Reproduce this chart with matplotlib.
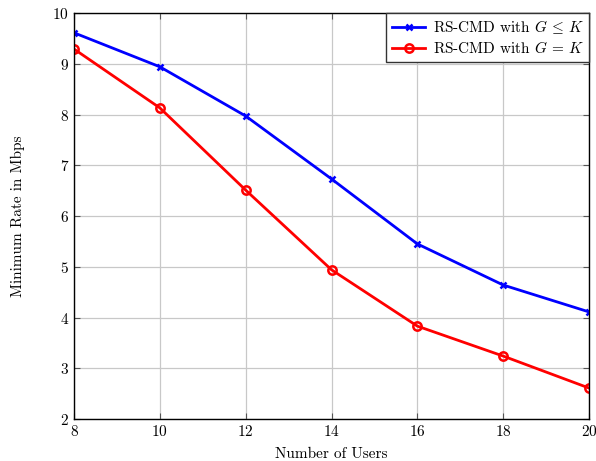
import matplotlib
matplotlib.use("Agg")
import matplotlib.pyplot as plt

plt.rcParams['font.family'] = 'serif'
plt.rcParams['font.serif'] = ['cmr10']
plt.rcParams['mathtext.fontset'] = 'cm'
plt.rcParams['axes.formatter.use_mathtext'] = True

users = [8, 10, 12, 14, 16, 18, 20]
rate_leq = [9.61, 8.94, 7.97, 6.73, 5.45, 4.64, 4.11]
rate_eq = [9.29, 8.13, 6.51, 4.94, 3.83, 3.24, 2.61]

fig = plt.figure(figsize=(5.96, 4.61), dpi=100)
ax = fig.add_axes([0.1242, 0.0911, 0.8641, 0.8807])

ax.plot(users, rate_leq, color='blue', lw=2, marker='x', ms=4, mew=1.8,
        label=r'RS-CMD with $G\,\leq\,K$')
ax.plot(users, rate_eq, color='red', lw=2, marker='o', ms=6, mew=1.8,
        mfc='none', label=r'RS-CMD with $G\,=\,K$')

ax.set_xlim(8, 20)
ax.set_ylim(2, 10)
ax.set_xticks(users)
ax.set_yticks(range(2, 11))
ax.grid(True, color='#c8c8c8', lw=0.9)
ax.set_axisbelow(True)
ax.tick_params(direction='in', top=True, right=True, labelsize=11, length=4, color='#555555')
for s in ax.spines.values():
    s.set_linewidth(1.0)

ax.set_xlabel('Number of Users', fontsize=11, labelpad=6)
ax.set_ylabel('Minimum Rate in Mbps', fontsize=11, labelpad=20)

leg = ax.legend(loc='upper right', fontsize=11, fancybox=False, framealpha=1,
                edgecolor='#333333', borderaxespad=0, handlelength=2.2,
                borderpad=0.35, labelspacing=0.25, handletextpad=0.5)
leg.get_frame().set_linewidth(1.0)

fig.savefig('out.png', dpi=100)
